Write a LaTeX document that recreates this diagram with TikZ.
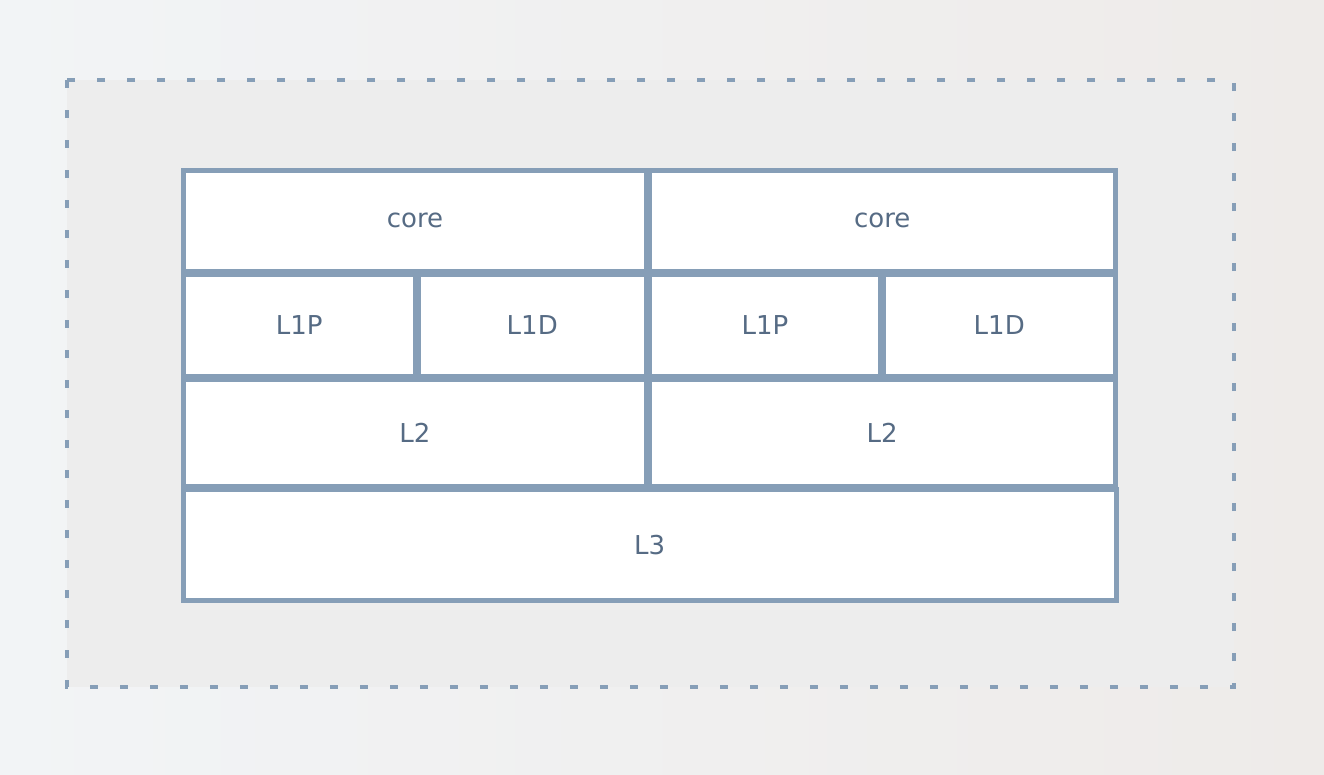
\documentclass[tikz,border=0pt]{standalone}
\usepackage{fontspec}
\setmainfont{DejaVu Sans}
\definecolor{frameBlue}{HTML}{869EB7}
\definecolor{labelBlue}{HTML}{566B84}
\definecolor{backCool}{HTML}{F2F4F6}
\definecolor{backWarm}{HTML}{EEEBE9}
\definecolor{panelGrey}{HTML}{EDEDED}

\begin{document}
\begin{tikzpicture}
[x=1pt,y=-1pt,%
  cellDecorate/.style={shape=rectangle,draw=frameBlue,fill=white,line width=5pt,inner sep=0pt,%
    text=labelBlue,font=\fontsize{26}{30}\selectfont},%
  frameDecorate/.style={draw=frameBlue,fill=panelGrey,line width=3.5pt,dash pattern=on 8pt off 22pt}]
%% background and page size
\shade[left color=backCool,right color=backWarm] (0,0) rectangle (1324,774);
\useasboundingbox (0,0) rectangle (1324,774);
%% dashed outer frame
\draw[frameDecorate] (67,80) rectangle (1234,687);
%% cache cells
\foreach \cellname/\x/\y/\w/\h/\lbl in {core1/415/220.75/463/101.5/core,
  core2/882.25/220.75/465.5/101.5/core,
  l1p1/299.25/325.25/231.5/101.5/L1P, l1d1/532.25/325.25/228.5/101.5/L1D,
  l1p2/765/325.25/231/101.5/L1P, l1d2/999.25/325.25/231.5/101.5/L1D,
  l2a/415/432.75/463/107.5/L2, l2b/882.25/432.75/465.5/107.5/L2,
  l3/649.75/544.75/932.5/110.5/L3}
{
  \node (\cellname) at (\x,\y) [cellDecorate,minimum width=\w pt,minimum height=\h pt] {\lbl};
}
\end{tikzpicture}
\end{document}
